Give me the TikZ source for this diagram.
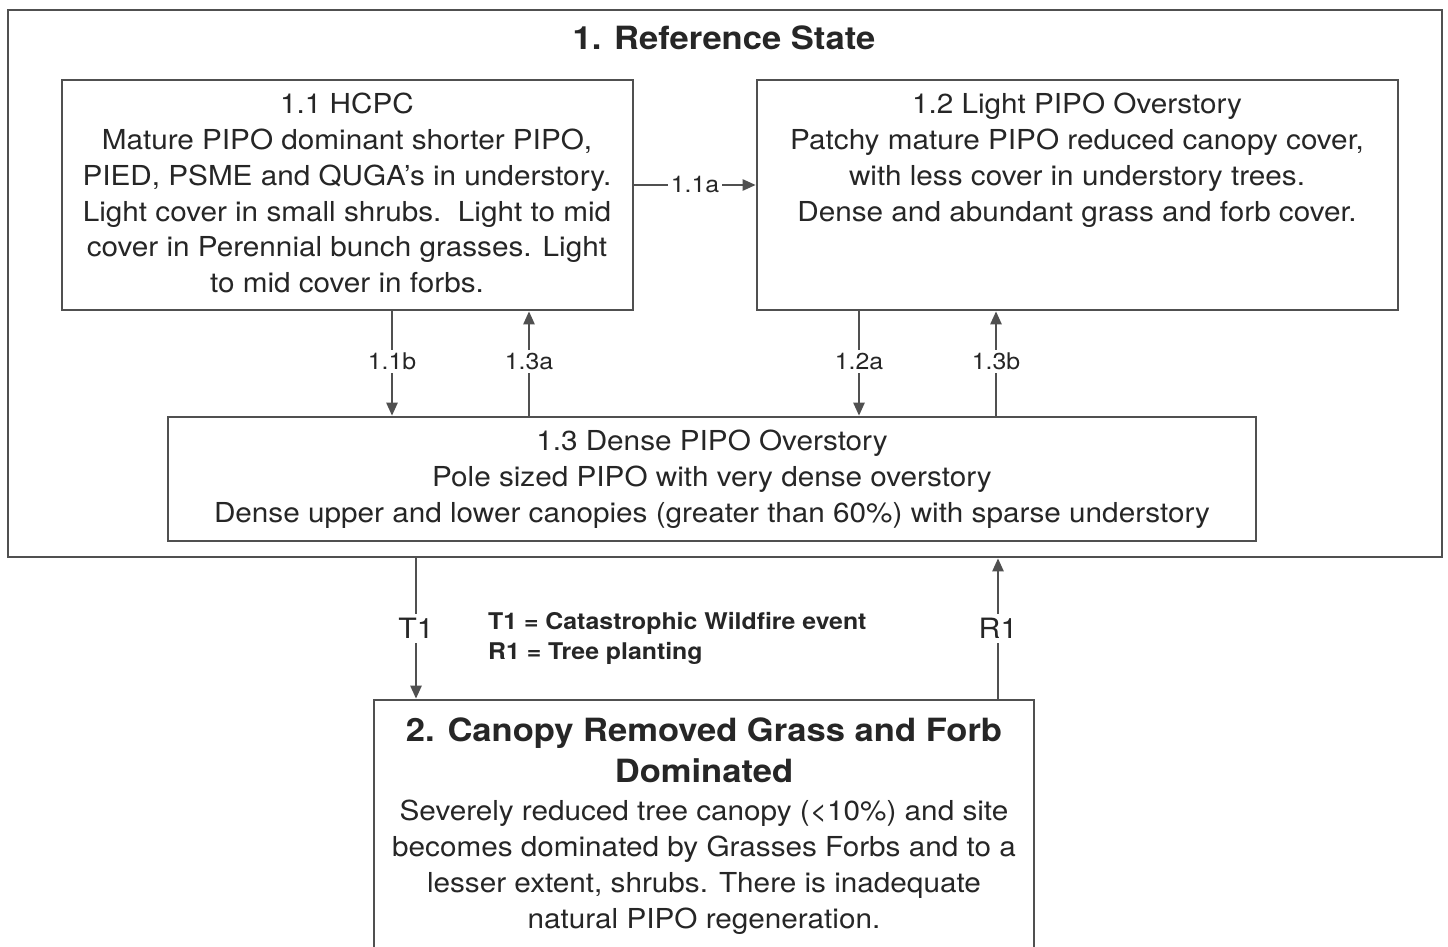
\documentclass[tikz,border=0pt]{standalone}
\usepackage{fontspec}
\setmainfont{TeX Gyre Heros}[FakeStretch=1.08]
\usetikzlibrary{arrows.meta}
\definecolor{ln}{HTML}{505050}
\definecolor{tx}{HTML}{262626}
\tikzset{
  boxst/.style={draw=ln, line width=2.6pt, fill=white, inner sep=0pt},
  body/.style={text=tx, align=center, font=\fontsize{27.5}{35.8}\selectfont, inner sep=0pt, anchor=north},
  conn/.style={draw=ln, line width=2.4pt, -{Triangle[length=13pt,width=11pt]}},
  lbl/.style={fill=white, text=tx, font=\fontsize{23}{25}\selectfont, inner sep=3pt},
  tlbl/.style={fill=white, text=tx, font=\fontsize{28}{30}\selectfont, inner sep=4pt}
}
\begin{document}
\begin{tikzpicture}[x=1pt,y=-1pt]
\useasboundingbox (0,0) rectangle (1448,947);
% outer reference state
\node[boxst, minimum width=1434pt, minimum height=547pt] (rs) at (725,283.5) {};
\node[text=tx, font=\bfseries\fontsize{32}{34}\selectfont, inner sep=0pt] (rst) at (724,38) {1. Reference State};
% boxes
\node[boxst, minimum width=571pt, minimum height=230pt] (b11) at (347.5,195) {};
\node[boxst, minimum width=641pt, minimum height=230pt] (b12) at (1077.5,195) {};
\node[boxst, minimum width=1088pt, minimum height=124pt] (b13) at (712,479) {};
\node[boxst, minimum width=660pt, minimum height=260pt] (b2) at (704,830) {};
% texts
\node[body] (t11) at (347,93) {1.1 HCPC\\Mature PIPO dominant shorter PIPO,\\PIED, PSME and QUGA's in understory.\\Light cover in small shrubs.\ \ Light to mid\\cover in Perennial bunch grasses. Light\\to mid cover in forbs.};
\node[body] (t12) at (1077,93) {1.2 Light PIPO Overstory\\Patchy mature PIPO reduced canopy cover,\\with less cover in understory trees.\\Dense and abundant grass and forb cover.};
\node[body] (t13) at (712,430) {1.3 Dense PIPO Overstory\\Pole sized PIPO with very dense overstory\\Dense upper and lower canopies (greater than 60\%) with sparse understory};
\node[body, font=\bfseries\fontsize{32}{41}\selectfont] (t2a) at (704,718) {2. Canopy Removed Grass and Forb\\Dominated};
\node[body] (t2b) at (704,800) {Severely reduced tree canopy (<10\%) and site\\becomes dominated by Grasses Forbs and to a\\lesser extent, shrubs. There is inadequate\\natural PIPO regeneration.};
% legend
\node[text=tx, font=\bfseries\fontsize{23}{30}\selectfont, align=left, anchor=north west, inner sep=0pt] (leg) at (488,612) {T1 = Catastrophic Wildfire event\\R1 = Tree planting};
% connectors
\coordinate (a1) at (b11.east |- 0,185);
\coordinate (a2) at (b12.west |- 0,185);
\draw[conn] (a1) -- node[lbl] {1.1a} (a2);
\draw[conn] (b11.south -| 392,0) -- node[lbl, pos=0.48] {1.1b} (b13.north -| 392,0);
\draw[conn] (b13.north -| 529,0) -- node[lbl, pos=0.52] {1.3a} (b11.south -| 529,0);
\draw[conn] (b12.south -| 859,0) -- node[lbl, pos=0.48] {1.2a} (b13.north -| 859,0);
\draw[conn] (b13.north -| 996,0) -- node[lbl, pos=0.52] {1.3b} (b12.south -| 996,0);
\draw[conn] (rs.south -| 416,0) -- node[tlbl, pos=0.5] {T1} (b2.north -| 416,0);
\draw[conn] (b2.north -| 998,0) -- node[tlbl, pos=0.5] {R1} (rs.south -| 998,0);
\end{tikzpicture}
\end{document}
